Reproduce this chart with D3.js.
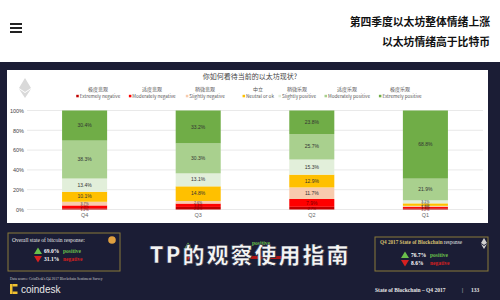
<!DOCTYPE html>
<html><head><meta charset="utf-8">
<script src="https://cdn.jsdelivr.net/npm/d3@7"></script>
<style>
html,body{margin:0;padding:0;background:#fff;}
svg{display:block;}
</style></head>
<body>
<svg id="c" width="500" height="300"></svg>
<script>
// ---- data ----
const headline1 = "第四季度以太坊整体情绪上涨";
const headline2 = "以太坊情绪高于比特币";
const chartTitle = "你如何看待当前的以太坊现状?";
const categories = ["Q4", "Q3", "Q2", "Q1"];
const seriesZh = ["极度悲观", "适度悲观", "稍微悲观", "中立", "稍微乐观", "适度乐观", "极度乐观"];
const seriesEn = ["Extremely negative", "Moderately negative", "Slightly negative", "Neutral or ok", "Slightly positive", "Moderately positive", "Extremely positive"];
const extremelyNegative  = [1.2, 2.6, 2.7, 1.2];
const moderatelyNegative = [2.9, 3.4, 7.9, 1.3];
const slightlyNegative   = [3.7, 2.6, 11.7, 1.2];
const neutral            = [10.1, 14.8, 12.9, 2.5];
const slightlyPositive   = [13.4, 13.1, 15.3, 3.1];
const moderatelyPositive = [38.3, 30.3, 25.7, 21.9];
const extremelyPositive  = [30.4, 33.2, 23.8, 68.8];
const yTicks = [0, 20, 40, 60, 80, 100];
const btcPositive = "69.0%", btcNegative = "31.1%";
const sobPositive = "76.7%", sobNegative = "8.6%";
const pageNo = "133";

const seriesValues = [extremelyNegative, moderatelyNegative, slightlyNegative, neutral, slightlyPositive, moderatelyPositive, extremelyPositive];
const colors = ["#c00000", "#ff0000", "#f8cbad", "#ffc000", "#e2efda", "#a9d08e", "#70ad47"];

const svg = d3.select("#c");
const serif = "'Liberation Serif','DejaVu Serif',serif";
const cjk = "'Noto Sans CJK SC','Noto Sans',sans-serif";

// ---- header ----
svg.append("rect").attr("x",0).attr("y",0).attr("width",500).attr("height",62).attr("fill","#ffffff");
[24,28,32].forEach(y=>svg.append("rect").attr("x",10).attr("y",y-1).attr("width",12).attr("height",2).attr("fill","#222"));
svg.append("text").attr("x",490).attr("y",26).attr("text-anchor","end").attr("font-family",cjk)
  .attr("font-weight","bold").attr("font-size",10.8).attr("fill","#111").text(headline1);
svg.append("text").attr("x",490).attr("y",46).attr("text-anchor","end").attr("font-family",cjk)
  .attr("font-weight","bold").attr("font-size",10.8).attr("fill","#111").text(headline2);

// ---- dark background ----
svg.append("rect").attr("x",0).attr("y",62).attr("width",500).attr("height",238).attr("fill","#1b1d35");

// ---- chart panel ----
svg.append("rect").attr("x",7).attr("y",70).attr("width",481).attr("height",153).attr("fill","#ffffff");
// faint ether logo
svg.append("path").attr("d","M25,78 L31,88 L25,92 L19,88 Z M25,93 L31,89 L25,98 L19,89 Z").attr("fill","#d9d9d9");

svg.append("text").attr("x",250).attr("y",79).attr("text-anchor","middle").attr("font-family",cjk)
  .attr("font-size",7).attr("fill","#444").text(chartTitle);

// legend
const legX = [98, 152, 205, 258, 297, 347, 400];
seriesZh.forEach((s,i)=>{
  svg.append("text").attr("x",legX[i]).attr("y",91).attr("text-anchor","middle").attr("font-family",cjk)
    .attr("font-size",5).attr("fill","#555").text(s);
  const t = svg.append("text").attr("x",legX[i]+2).attr("y",98).attr("text-anchor","middle").attr("font-family",cjk)
    .attr("font-size",4.6).attr("fill","#555").text(seriesEn[i]);
  const w = t.node().getComputedTextLength();
  svg.append("rect").attr("x",legX[i]+2-w/2-3.5).attr("y",94.8).attr("width",2.5).attr("height",2.5).attr("fill",colors[i]);
});

const x = d3.scaleBand().domain(categories).range([28, 482]).paddingInner(0.6035).paddingOuter(0.3);
const y = d3.scaleLinear().domain([0,100]).range([209.5,110.5]);

// grid
svg.append("g").selectAll("line").data(yTicks).join("line")
  .attr("x1",27).attr("x2",483).attr("y1",d=>y(d)).attr("y2",d=>y(d))
  .attr("stroke","#e3e3e3").attr("stroke-width",0.8);

// y axis
const yAxis = d3.axisLeft(y).tickValues(yTicks).tickFormat(d=>d+"%").tickSize(0).tickPadding(0);
const yg = svg.append("g").attr("transform","translate(24,0)").call(yAxis);
yg.select(".domain").remove();
yg.selectAll("text").attr("font-family","'Liberation Sans',Arial,sans-serif").attr("font-size",5.5).attr("fill","#444");

// x axis
const xAxis = d3.axisBottom(x).tickSize(0).tickPadding(0);
const xg = svg.append("g").attr("transform","translate(0,213)").call(xAxis);
xg.select(".domain").remove();
xg.selectAll("text").attr("font-family","'Liberation Sans',Arial,sans-serif").attr("font-size",5.5).attr("fill","#666");

// stacked bars
const rows = categories.map((c,j)=>{
  const o = {cat:c};
  seriesEn.forEach((s,i)=>o[s]=seriesValues[i][j]);
  return o;
});
const stack = d3.stack().keys(seriesEn)(rows);
const layers = svg.append("g").selectAll("g").data(stack).join("g").attr("fill",(d,i)=>colors[i]);
layers.selectAll("rect").data(d=>d).join("rect")
  .attr("x",d=>x(d.data.cat)).attr("width",x.bandwidth())
  .attr("y",d=>y(d[1])).attr("height",d=>y(d[0])-y(d[1]));
const labels = svg.append("g");
stack.forEach((layer,i)=>{
  layer.forEach(d=>{
    const h = y(d[0])-y(d[1]);
    labels.append("text").attr("x",x(d.data.cat)+x.bandwidth()/2).attr("y",(y(d[0])+y(d[1]))/2+1.6)
      .attr("text-anchor","middle").attr("font-family","'Liberation Sans',Arial,sans-serif")
      .attr("font-size", h < 4 ? 3.6 : 5).attr("fill", i<=1 ? "#7a0000" : "#333").text((d[1]-d[0]).toFixed(1)+"%");
  });
});

// ---- bottom left box ----
function box(x0,y0,w,h){
  svg.append("rect").attr("x",x0).attr("y",y0).attr("width",w).attr("height",h)
    .attr("fill","none").attr("stroke","#8a7a3a").attr("stroke-width",1);
}
function tri(cx,cy,up,col){
  const p = up ? `M${cx},${cy-3.5} L${cx+4},${cy+3} L${cx-4},${cy+3} Z` : `M${cx-4},${cy-3} L${cx+4},${cy-3} L${cx},${cy+3.5} Z`;
  svg.append("path").attr("d",p).attr("fill",col);
}
box(8,233,112,38);
svg.append("text").attr("x",12).attr("y",242).attr("font-family",serif).attr("font-size",5.5).attr("fill","#e8e8e8")
  .text("Overall state of bitcoin response:");
svg.append("circle").attr("cx",112).attr("cy",240).attr("r",3.8).attr("fill","#e0a040");
tri(38,251,true,"#6abf4b");
tri(38,259,false,"#d62020");
svg.append("text").attr("x",44).attr("y",253).attr("font-family",serif).attr("font-weight","bold").attr("font-size",5.5).attr("fill","#ffffff").text(btcPositive);
svg.append("text").attr("x",63).attr("y",253).attr("font-family",serif).attr("font-weight","bold").attr("font-size",5.5).attr("fill","#6abf4b").text("positive");
svg.append("text").attr("x",44).attr("y",261).attr("font-family",serif).attr("font-weight","bold").attr("font-size",5.5).attr("fill","#ffffff").text(btcNegative);
svg.append("text").attr("x",63).attr("y",261).attr("font-family",serif).attr("font-weight","bold").attr("font-size",5.5).attr("fill","#d62020").text("negative");
svg.append("text").attr("x",10).attr("y",280).attr("font-family",serif).attr("font-size",3.6).attr("fill","#cccccc")
  .text("Data source: CoinDesk's Q4 2017 Blockchain Sentiment Survey");
// coindesk logo
svg.append("rect").attr("x",10).attr("y",284).attr("width",2.5).attr("height",10).attr("fill","#f0c030");
svg.append("rect").attr("x",12.5).attr("y",284).attr("width",5).attr("height",2.5).attr("fill","#f0c030");
svg.append("rect").attr("x",12.5).attr("y",291.5).attr("width",5).attr("height",2.5).attr("fill","#f0c030");
svg.append("text").attr("x",21).attr("y",293).attr("font-family","'Liberation Sans',Arial,sans-serif").attr("font-size",10).attr("fill","#e8e8e8").text("coindesk");

// middle hidden box remnants
tri(188,246,true,"#6abf4b");
tri(188,257,false,"#d62020");
svg.append("text").attr("x",252).attr("y",244.5).attr("font-family",serif).attr("font-weight","bold").attr("font-size",5.5).attr("fill","#6abf4b").text("positive");
svg.append("rect").attr("x",248).attr("y",256).attr("width",36).attr("height",3).attr("fill","#b01515");

// big overlay title
svg.append("text").attr("x",250).attr("y",263).attr("text-anchor","middle").attr("font-family",cjk)
  .attr("font-weight","900").attr("font-size",22).attr("fill","#f4f4f4").attr("letter-spacing",2)
  .attr("stroke","#1b1d35").attr("stroke-width",0.6).text("TP的观察使用指南");

// ---- right box ----
box(375,237,113,34);
svg.append("text").attr("x",380).attr("y",244).attr("font-family",serif).attr("font-weight","bold").attr("font-size",5.2).attr("fill","#d8c070")
  .text("Q4 2017 State of Blockchain").append("tspan").attr("fill","#e8e8e8").attr("font-weight","normal").text(" response");
svg.append("path").attr("d","M484,238 L487,243 L484,245 L481,243 Z M484,246 L487,244 L484,249 L481,244 Z").attr("fill","#d0d0d0");
tri(405,255,true,"#6abf4b");
tri(405,263,false,"#d62020");
svg.append("text").attr("x",411).attr("y",257).attr("font-family",serif).attr("font-weight","bold").attr("font-size",5.5).attr("fill","#ffffff").text(sobPositive);
svg.append("text").attr("x",430).attr("y",257).attr("font-family",serif).attr("font-weight","bold").attr("font-size",5.5).attr("fill","#6abf4b").text("positive");
svg.append("text").attr("x",411).attr("y",265).attr("font-family",serif).attr("font-weight","bold").attr("font-size",5.5).attr("fill","#ffffff").text(sobNegative);
svg.append("text").attr("x",430).attr("y",265).attr("font-family",serif).attr("font-weight","bold").attr("font-size",5.5).attr("fill","#d62020").text("negative");

svg.append("text").attr("x",375).attr("y",292).attr("font-family",serif).attr("font-weight","bold").attr("font-size",5.5).attr("fill","#e8e8e8")
  .text("State of Blockchain – Q4 2017");
svg.append("text").attr("x",462).attr("y",292).attr("font-family",serif).attr("font-size",5.5).attr("fill","#e8e8e8").text("|");
svg.append("text").attr("x",471).attr("y",292).attr("font-family",serif).attr("font-weight","bold").attr("font-size",5.5).attr("fill","#e8e8e8").text(pageNo);
</script>
</body></html>
